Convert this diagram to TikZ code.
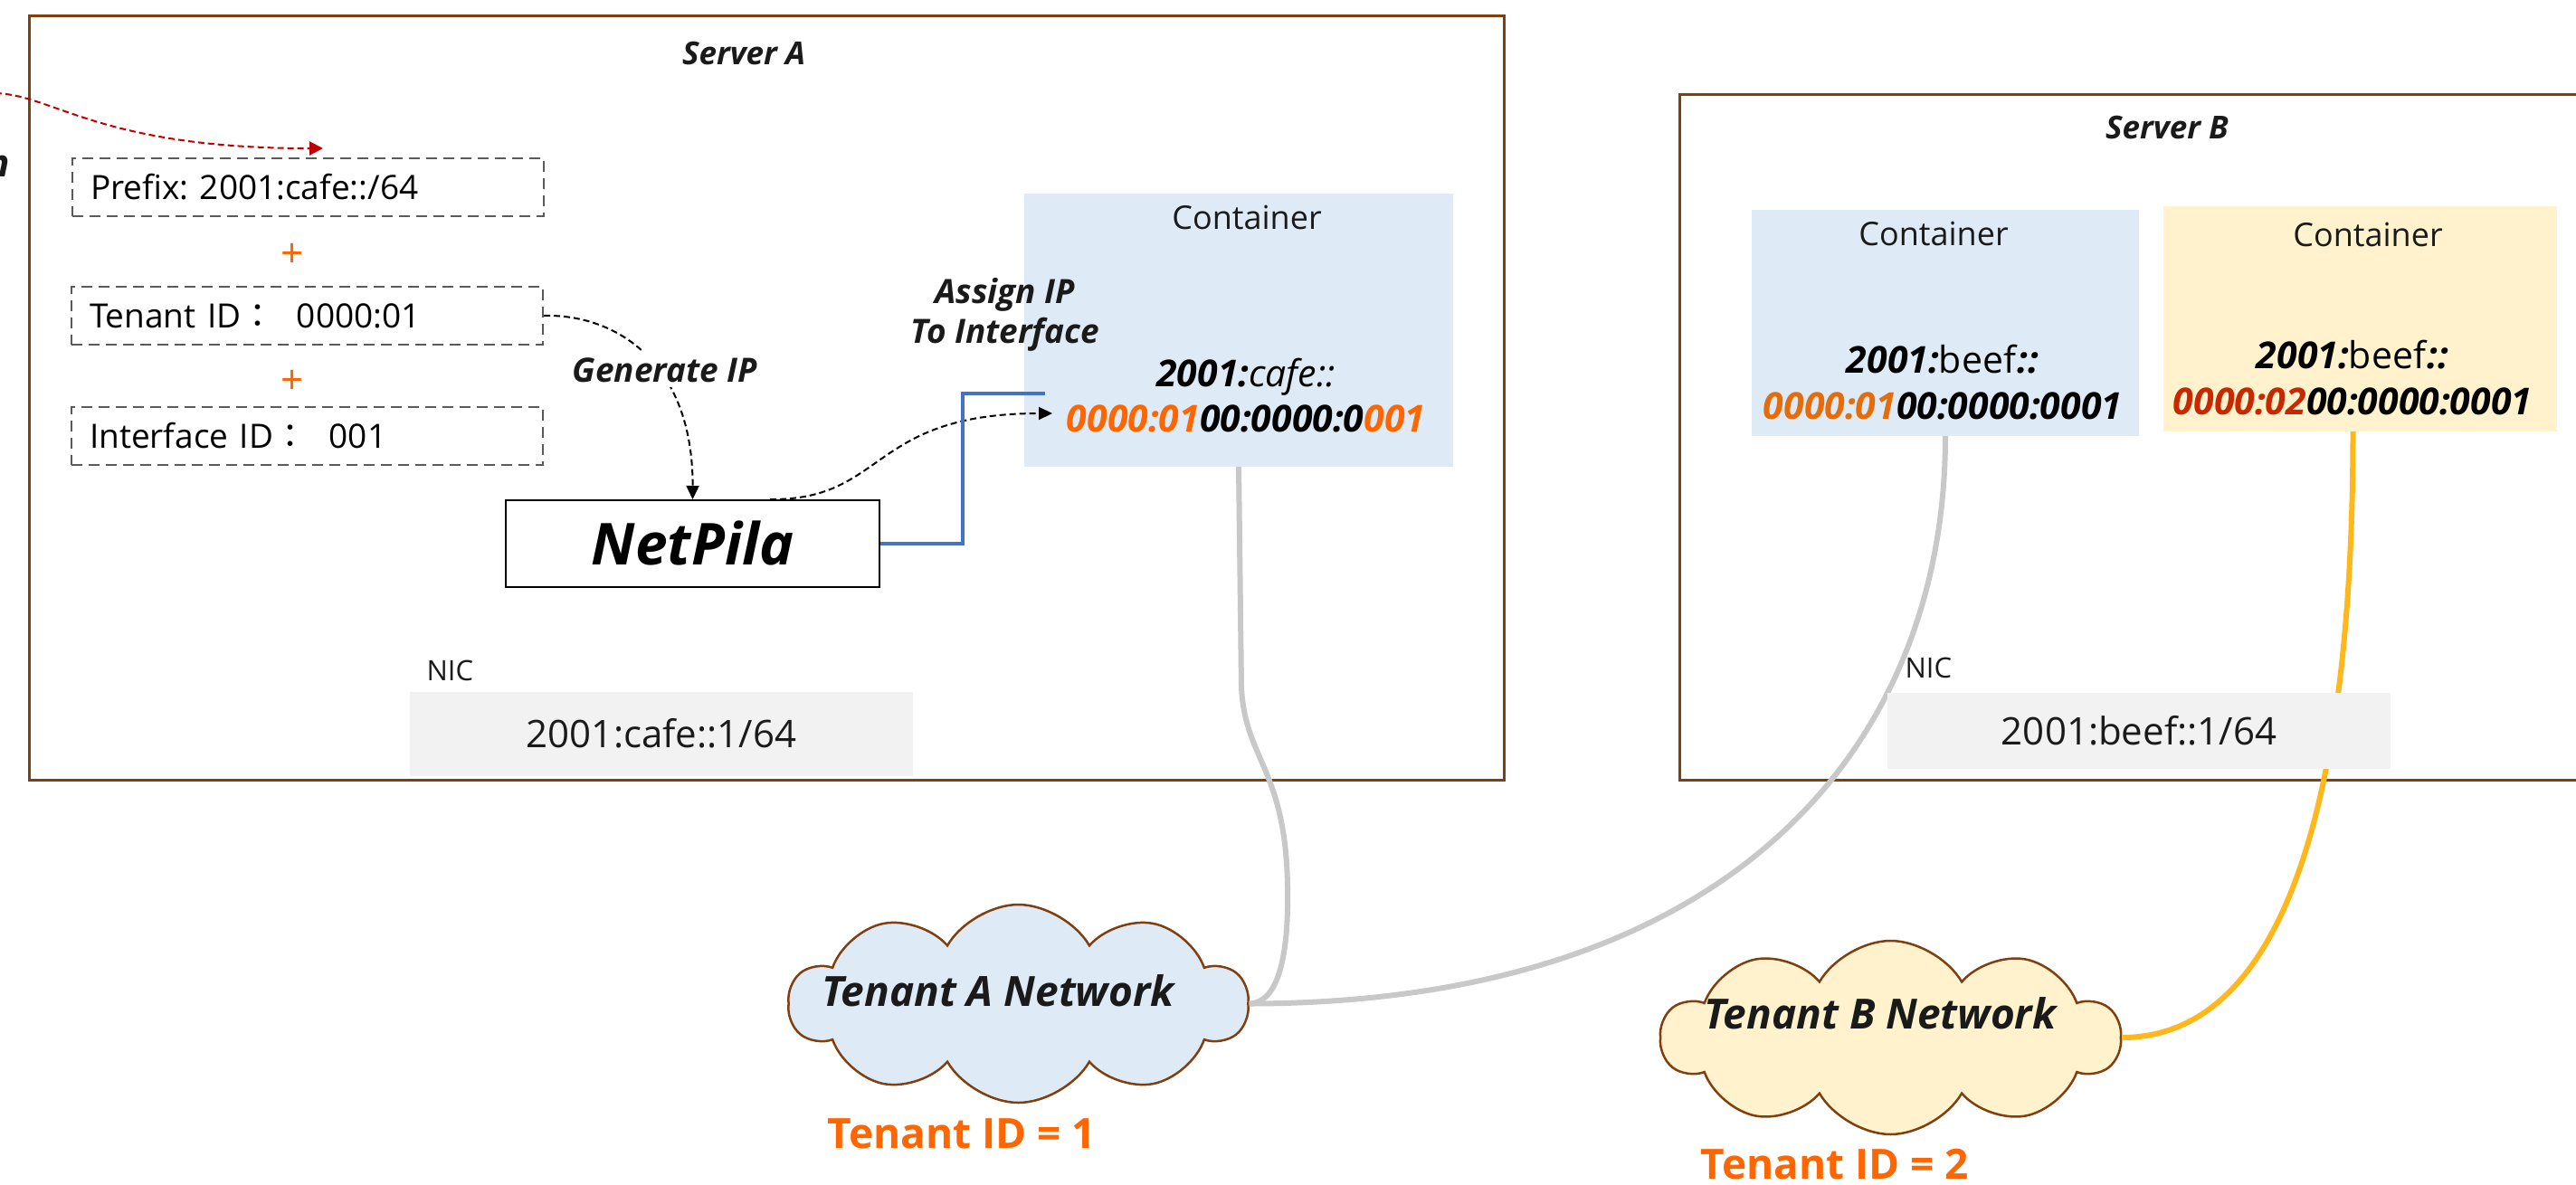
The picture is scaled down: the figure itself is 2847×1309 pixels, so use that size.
\documentclass[tikz,border=0pt]{standalone}
\usepackage{fontspec}
\setmainfont{Open Sans}
\newfontfamily\cjk{Noto Sans CJK TC}
\usetikzlibrary{arrows.meta,shapes.symbols,calc}
\newcommand\fsz[1]{\fontsize{#1}{#1}\selectfont}
\frenchspacing
\definecolor{brownc}{HTML}{7F3F0F}
\definecolor{dashgray}{HTML}{5A5A5A}
\definecolor{lblue}{HTML}{DEEBF7}
\definecolor{lyellow}{HTML}{FFF2CC}
\definecolor{nicgray}{HTML}{F2F2F2}
\definecolor{orangec}{HTML}{FF6600}
\definecolor{orangeb}{HTML}{E46C0A}
\definecolor{redt}{HTML}{C82800}
\definecolor{redc}{HTML}{C00000}
\definecolor{grayl}{HTML}{C8C8C8}
\definecolor{yellowl}{HTML}{FFB71B}
\definecolor{bluel}{HTML}{4472C4}
\definecolor{txt}{HTML}{1A1A1A}
\tikzset{
  server/.style={draw=brownc, line width=3pt, anchor=north west, inner sep=0pt},
  dashbox/.style={draw=dashgray, line width=2pt, dash pattern=on 12pt off 7pt,
    minimum width=521pt, minimum height=64pt, text width=481pt, inner xsep=20pt,
    inner ysep=0pt, align=left, text height=27pt, text depth=0pt, font=\fsz{37},
    anchor=north west},
  plus/.style={anchor=base, text=orangec, font=\fsz{44}},
  lbl/.style={anchor=base, text=txt, font=\fsz{37}\bfseries\itshape},
  title/.style={anchor=base, text=txt, font=\fsz{35}\bfseries\itshape},
  contbox/.style={inner sep=0pt},
  ctitle/.style={anchor=base, text=txt, font=\fsz{36}},
  ipt/.style={anchor=base, text=black, font=\fsz{41}},
  nicl/.style={anchor=base west, text=txt, font=\fsz{31}},
  nicbox/.style={fill=nicgray, inner sep=0pt, text height=30pt, text depth=0pt, font=\fsz{42}, text=txt},
  dasharrow/.style={draw=black, line width=2pt, dash pattern=on 7pt off 4pt, -{Triangle[length=15pt,width=14pt]}},
  redarrow/.style={draw=redc, line width=2pt, dash pattern=on 7pt off 4pt, -{Triangle[length=15pt,width=15pt]}},
  grayline/.style={draw=grayl, line width=6pt},
  yellowline/.style={draw=yellowl, line width=6pt},
  blueline/.style={draw=bluel, line width=4pt},
  cloudnode/.style={cloud, cloud puffs=10, cloud puff arc=120, cloud ignores aspect,
    draw=brownc, line width=2.5pt, inner sep=0pt},
  cloudtxt/.style={anchor=base, text=txt, font=\fsz{46}\bfseries\itshape},
  tid/.style={anchor=base, text=orangec, font=\fsz{46}\bfseries}
}
\begin{document}
\begin{tikzpicture}[x=1pt,y=-1pt]
\clip (0,0) rectangle (2847,1309);
\fill[white] (0,0) rectangle (2847,1309);
% servers
\node[server, minimum width=1630pt, minimum height=845pt] (srvA) at (31,16) {};
\node[server, minimum width=1100pt, minimum height=758pt] (srvB) at (1855,103) {};
\node[title] (srvAt) at (822,71) {Server A};
\node[title] (srvBt) at (2395,153) {Server B};
% left: id boxes
\node[dashbox] (prefix) at (79,174) {Prefix: 2001:cafe::/64};
\node[dashbox] (tenant) at (78,316) {Tenant ID{\cjk ：}\ \ 0000:01};
\node[dashbox] (iface) at (78,449) {Interface ID{\cjk ：}\ \ 001};
\node[plus] (plus1) at (323,295) {+};
\node[plus] (plus2) at (323,435) {+};
\node[lbl, anchor=base east, font=\fsz{42}\bfseries\itshape] (cut) at (14,195) {n};
\coordinate (redstart) at (-5,103);
\draw[redarrow] (redstart) .. controls (60,105) and (110,164) .. ([shift={(278,-10)}]prefix.north west);
% NetPila
\node[draw=black, line width=2pt, minimum width=413pt, minimum height=96pt, inner sep=0pt,
  text height=46pt, text depth=0pt, font=\fsz{64}\bfseries\itshape] (netpila) at (765.5,601) {NetPila};
\draw[dasharrow] (tenant.east) .. controls (680,347) and (766,400) .. (netpila.north);
\node[lbl, fill=white, inner sep=6pt] (genip) at (735,422) {Generate IP};
% containers
\node[contbox, fill=lblue, minimum width=474pt, minimum height=302pt] (contA) at (1369,365) {};
\node[contbox, fill=lblue, minimum width=428pt, minimum height=250pt] (contB1) at (2150,357) {};
\node[contbox, fill=lyellow, minimum width=435pt, minimum height=249pt] (contB2) at (2608.5,352.5) {};
\node[ctitle] (contAt) at (1378,253) {Container};
\node[ctitle] (contB1t) at (2137,271) {Container};
\node[ctitle] (contB2t) at (2617,272) {Container};
\node[ipt, font=\fsz{41}\itshape] (ipA1) at (1377,427) {\textbf{2001:}cafe::};
\node[ipt, font=\fsz{41}\bfseries\itshape] (ipA2) at (1377,477) {\textcolor{orangec}{0000:01}00:0000:0\textcolor{orangec}{001}};
\node[ipt] (ipB11) at (2147,412) {\textbf{\textit{2001:}}beef\textbf{\textit{::}}};
\node[ipt, font=\fsz{41}\bfseries\itshape] (ipB12) at (2147,463) {\textcolor{orangeb}{0000:01}00:0000:0001};
\node[ipt] (ipB21) at (2600,407) {\textbf{\textit{2001:}}beef\textbf{\textit{::}}};
\node[ipt, font=\fsz{41}\bfseries\itshape] (ipB22) at (2600,458) {\textcolor{redt}{0000:02}00:0000:0001};
% assign
\node[lbl] (asg1) at (1111,335) {Assign IP};
\node[lbl] (asg2) at (1111,379) {To Interface};
\coordinate (aiptip) at (1163,457);
\draw[dasharrow] ([xshift=85.5pt]netpila.north) .. controls (980,553) and (960,457) .. (aiptip);
\coordinate (blueend) at (1155,435);
\draw[blueline] (netpila.east) -- ++(91,0) |- (blueend);
% clouds
\node[cloudnode, fill=lblue, minimum width=507pt, minimum height=219pt] (cloudA) at (1125.5,1109.5) {};
\node[cloudnode, fill=lyellow, minimum width=507pt, minimum height=214pt] (cloudB) at (2089.5,1147) {};
% links
\draw[grayline] (contA.south) -- (1372,760) .. controls (1376,840) and (1421,850) .. (1423,980)
  .. controls (1425,1090) and (1400,1109) .. (cloudA.east);
\draw[grayline] (contB1.south) .. controls (2150,820) and (1920,1109) .. (cloudA.east);
\draw[yellowline] ([xshift=-8pt]contB2.south) .. controls (2600,950) and (2500,1147) .. (cloudB.east);
% NICs
\node[nicl] (nicAl) at (468,752) {NIC};
\node[nicbox, minimum width=556pt, minimum height=93pt] (nicA) at (731,811.5) {2001:cafe::1/64};
\node[nicl] (nicBl) at (2102,749) {NIC};
\node[nicbox, minimum width=556pt, minimum height=84pt] (nicB) at (2364,808) {2001:beef::1/64};
% cloud texts
\node[cloudtxt] (cloudAt) at (1103,1112) {Tenant A Network};
\node[cloudtxt] (cloudBt) at (2078,1137) {Tenant B Network};
\node[tid] (tidA) at (1063,1269) {Tenant ID = 1};
\node[tid] (tidB) at (2028,1303) {Tenant ID = 2};
\end{tikzpicture}
\end{document}
